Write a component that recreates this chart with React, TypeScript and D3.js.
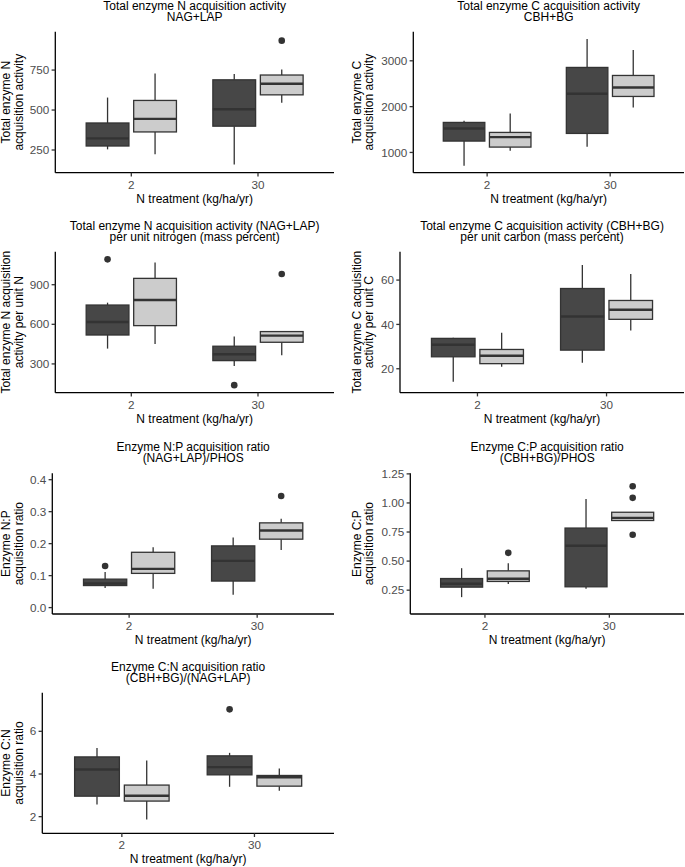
import React from "react";
import * as d3 from "d3";

// ---------- data ----------
const treatments = ["2", "30"];
const fillGroups = ["g1", "g2"];
const fillColors = ["#474747", "#CCCCCC"];

// box stats: [lower whisker, Q1, median, Q3, upper whisker]
// order: (2,g1), (2,g2), (30,g1), (30,g2)
const nAcqStats = [[254, 275, 323, 419, 578], [223, 363, 445, 560, 729], [160, 399, 505, 689, 725], [545, 595, 664, 719, 754]];
const nAcqOut = [[], [], [], [934]];

const cAcqStats = [[710, 1248, 1524, 1655, 1691], [1037, 1117, 1335, 1437, 1851], [1124, 1415, 2280, 2855, 3473], [1982, 2222, 2418, 2680, 3233]];
const cAcqOut = [[], [], [], []];

const nPerNStats = [[416, 519, 618, 746, 764], [451, 590, 784, 948, 1069], [285, 325, 373, 434, 507], [366, 464, 514, 545, 547]];
const nPerNOut = [[1092], [], [139], [981]];

const cPerCStats = [[14.1, 25.4, 30.8, 33.7, 34.0], [20.9, 22.3, 25.9, 28.7, 36.2], [22.7, 28.4, 43.6, 56.2, 66.8], [37.3, 42.3, 46.6, 50.8, 62.7]];
const cPerCOut = [[], [], [], []];

const npStats = [[0.061, 0.069, 0.0755, 0.089, 0.111], [0.059, 0.107, 0.121, 0.173, 0.189], [0.04, 0.083, 0.146, 0.193, 0.219], [0.18, 0.214, 0.241, 0.265, 0.278]];
const npOut = [[0.13], [], [], [0.349]];

const cpStats = [[0.19, 0.276, 0.305, 0.35, 0.439], [0.302, 0.325, 0.348, 0.416, 0.482], [0.262, 0.279, 0.632, 0.784, 1.035], [0.849, 0.849, 0.872, 0.92, 0.92]];
const cpOut = [[], [0.571], [], [1.143, 1.044, 0.726]];

const cnStats = [[2.57, 2.96, 4.21, 4.8, 5.22], [1.87, 2.73, 2.98, 3.48, 4.63], [3.4, 3.96, 4.32, 4.85, 4.99], [3.21, 3.43, 3.85, 3.93, 4.26]];
const cnOut = [[], [], [7.03], []];

// y-axis limits and ticks
const nAcqDomain = [108, 990];
const nAcqTicks = [250, 500, 750];
const cAcqDomain = [558, 3635];
const cAcqTicks = [1000, 2000, 3000];
const nPerNDomain = [82, 1150];
const nPerNTicks = [300, 600, 900];
const cPerCDomain = [9.2, 72.8];
const cPerCTicks = [20, 40, 60];
const npDomain = [-0.02, 0.42];
const npTicks = [0, 0.1, 0.2, 0.3, 0.4];
const cpDomain = [0.045, 1.255];
const cpTicks = [0.25, 0.5, 0.75, 1.0, 1.25];
const cnDomain = [1.22, 7.81];
const cnTicks = [2, 4, 6];

const titles = [
  ["Total enzyme N acquisition activity", "NAG+LAP"],
  ["Total enzyme C acquisition activity", "CBH+BG"],
  ["Total enzyme N acquisition activity (NAG+LAP)", "per unit nitrogen (mass percent)"],
  ["Total enzyme C acquisition activity (CBH+BG)", "per unit carbon (mass percent)"],
  ["Enzyme N:P acquisition ratio", "(NAG+LAP)/PHOS"],
  ["Enzyme C:P acquisition ratio", "(CBH+BG)/PHOS"],
  ["Enzyme C:N acquisition ratio", "(CBH+BG)/(NAG+LAP)"],
];
const yTitles = [
  ["Total enzyme N", "acquisition activity"],
  ["Total enzyme C", "acquisition activity"],
  ["Total enzyme N acquisition", "activity per unit N"],
  ["Total enzyme C acquisition", "activity per unit C"],
  ["Enzyme N:P", "acquisition ratio"],
  ["Enzyme C:P", "acquisition ratio"],
  ["Enzyme C:N", "acquisition ratio"],
];
const xTitle = "N treatment (kg/ha/yr)";

// ---------- layout ----------
const layouts = [
  { l: 55.3, r: 334, t: 31.7, b: 172.7, col: 0 },
  { l: 413.3, r: 684, t: 31.7, b: 172.7, col: 1 },
  { l: 55.3, r: 334, t: 251.7, b: 392.7, col: 0 },
  { l: 400, r: 684, t: 251.7, b: 392.7, col: 1 },
  { l: 52.3, r: 334, t: 473.3, b: 614, col: 0 },
  { l: 410.3, r: 684, t: 473.3, b: 614, col: 1 },
  { l: 42.3, r: 334, t: 692.7, b: 833.3, col: 0 },
];

const panels = [
  { stats: nAcqStats, out: nAcqOut, domain: nAcqDomain, ticks: nAcqTicks, fmt: (v: number) => String(v) },
  { stats: cAcqStats, out: cAcqOut, domain: cAcqDomain, ticks: cAcqTicks, fmt: (v: number) => String(v) },
  { stats: nPerNStats, out: nPerNOut, domain: nPerNDomain, ticks: nPerNTicks, fmt: (v: number) => String(v) },
  { stats: cPerCStats, out: cPerCOut, domain: cPerCDomain, ticks: cPerCTicks, fmt: (v: number) => String(v) },
  { stats: npStats, out: npOut, domain: npDomain, ticks: npTicks, fmt: d3.format(".1f") },
  { stats: cpStats, out: cpOut, domain: cpDomain, ticks: cpTicks, fmt: d3.format(".2f") },
  { stats: cnStats, out: cnOut, domain: cnDomain, ticks: cnTicks, fmt: (v: number) => String(v) },
];

const FONT = "'Liberation Sans', Arial, Helvetica, sans-serif";
const SW = 1.3;

function Panel({ idx }: { idx: number }) {
  const L = layouts[idx];
  const P = panels[idx];
  const x = d3.scalePoint<string>().domain(treatments).range([L.l, L.r]).padding(0.6);
  const step = x.step();
  const y = d3.scaleLinear().domain(P.domain).range([L.b, L.t]);
  const boxW = 0.3375 * step;
  const cx = (L.l + L.r) / 2;
  const ytx = L.col === 0 ? [10, 22.5] : [360.5, 372.5];
  const ymid = (L.t + L.b) / 2;
  const boxes: any[] = [];
  treatments.forEach((t, ti) => {
    fillGroups.forEach((g, gi) => {
      const k = ti * 2 + gi;
      const s = P.stats[k];
      const c = (x(t) as number) + (gi === 0 ? -0.1875 : 0.1875) * step;
      boxes.push(
        <g key={k}>
          <line x1={c} x2={c} y1={y(s[0])} y2={y(s[1])} stroke="#333333" strokeWidth={SW} />
          <line x1={c} x2={c} y1={y(s[3])} y2={y(s[4])} stroke="#333333" strokeWidth={SW} />
          <rect x={c - boxW / 2} y={y(s[3])} width={boxW} height={Math.max(0, y(s[1]) - y(s[3]))}
            fill={fillColors[gi]} stroke="#333333" strokeWidth={SW} />
          <line x1={c - boxW / 2} x2={c + boxW / 2} y1={y(s[2])} y2={y(s[2])} stroke="#333333" strokeWidth={2.4} />
          {P.out[k].map((o, oi) => (
            <circle key={oi} cx={c} cy={y(o)} r={3.3} fill="#333333" />
          ))}
        </g>
      );
    });
  });
  return (
    <g>
      <text x={cx} y={L.t - 22} textAnchor="middle" fontSize={12} fill="#000">{titles[idx][0]}</text>
      <text x={cx} y={L.t - 11} textAnchor="middle" fontSize={12} fill="#000">{titles[idx][1]}</text>
      {boxes}
      <line x1={L.l} x2={L.l} y1={L.t} y2={L.b} stroke="#000" strokeWidth={SW} />
      <line x1={L.l} x2={L.r} y1={L.b} y2={L.b} stroke="#000" strokeWidth={SW} />
      {P.ticks.map((v) => (
        <g key={v}>
          <line x1={L.l - 3.7} x2={L.l} y1={y(v)} y2={y(v)} stroke="#333333" strokeWidth={SW} />
          <text x={L.l - 6} y={y(v)} dy="0.35em" textAnchor="end" fontSize={11.7} fill="#4D4D4D">{P.fmt(v)}</text>
        </g>
      ))}
      {treatments.map((t) => (
        <g key={t}>
          <line x1={x(t)} x2={x(t)} y1={L.b} y2={L.b + 3.7} stroke="#333333" strokeWidth={SW} />
          <text x={x(t)} y={L.b + 16} textAnchor="middle" fontSize={11.7} fill="#4D4D4D">{t}</text>
        </g>
      ))}
      <text x={cx} y={L.b + 30} textAnchor="middle" fontSize={12} fill="#000">{xTitle}</text>
      <text transform={`translate(${ytx[0]},${ymid}) rotate(-90)`} textAnchor="middle" fontSize={12} fill="#000">{yTitles[idx][0]}</text>
      <text transform={`translate(${ytx[1]},${ymid}) rotate(-90)`} textAnchor="middle" fontSize={12} fill="#000">{yTitles[idx][1]}</text>
    </g>
  );
}

export default function App() {
  return (
    <svg width={685} height={867} style={{ position: "absolute", left: 0, top: 0, background: "#fff" }}
      fontFamily={FONT}>
      <rect x={0} y={0} width={685} height={867} fill="#fff" />
      {panels.map((_, i) => (
        <Panel key={i} idx={i} />
      ))}
    </svg>
  );
}
